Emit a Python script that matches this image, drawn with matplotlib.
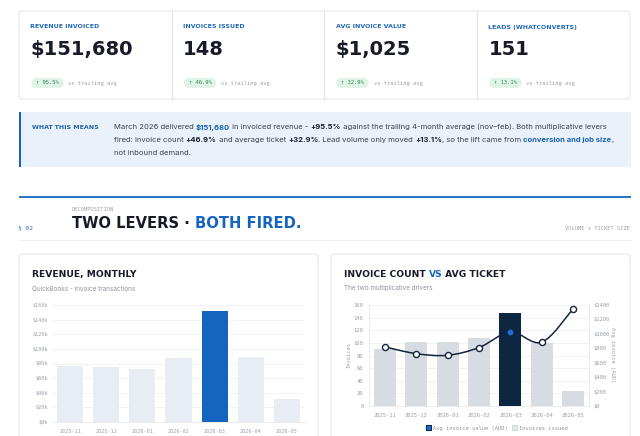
import matplotlib
matplotlib.use('Agg')
import matplotlib.pyplot as plt
import numpy as np
from matplotlib.patches import FancyBboxPatch, Rectangle, Patch, PathPatch
from matplotlib.path import Path

# ---------------- data ----------------
months = ['2025-11', '2025-12', '2026-01', '2026-02', '2026-03', '2026-04', '2026-05']
revenue = [75900, 75000, 72700, 87800, 151680, 88700, 31500]
invoices = [91, 102, 102, 107, 148, 100, 23]
avg_ticket = [820, 726, 703, 810, 1025, 885, 1350]
highlight_month = '2026-03'

kpi_labels = ['REVENUE INVOICED', 'INVOICES ISSUED', 'AVG INVOICE VALUE', 'LEADS (WHATCONVERTS)']
kpi_values = ['$151,680', '148', '$1,025', '151']
kpi_deltas = ['95.5%', '46.9%', '32.9%', '13.1%']

rev_ticks = [0, 20000, 40000, 60000, 80000, 100000, 120000, 140000, 160000]
inv_ticks = [0, 20, 40, 60, 80, 100, 120, 140, 160]
ticket_ticks = [0, 200, 400, 600, 800, 1000, 1200, 1400]

# ---------------- styling ----------------
W, H = 640, 436
BLUE = '#1565c0'
NAVY = '#0d2642'
INK = '#161b27'
GREY = '#8e949c'
TICK = '#9aa0a8'
BORDER = '#e3e6ea'
MONO = 'DejaVu Sans Mono'
SANS = 'DejaVu Sans'
BODY = ['Inter', 'DejaVu Sans']

fig = plt.figure(figsize=(6.4, 4.36), dpi=100)
fig.patch.set_facecolor('white')
bg = fig.add_axes([0, 0, 1, 1], zorder=0)
bg.set_xlim(0, W)
bg.set_ylim(H, 0)
bg.axis('off')
R = fig.canvas.get_renderer()


def text_w(s, **kw):
    t = bg.text(0, 0, '|' + s + '|', **kw)
    w1 = t.get_window_extent(R).width
    t.remove()
    t = bg.text(0, 0, '||', **kw)
    w2 = t.get_window_extent(R).width
    t.remove()
    return w1 - w2


def rich(x, y, runs, base):
    for s, kw in runs:
        p = dict(base)
        p.update(kw)
        bg.text(x, y, s, ha='left', va='center', **p)
        x += text_w(s, **p)


def rbox(x, y, w, h, r, fc, ec='none', lw=0.0, z=1):
    b = FancyBboxPatch((x, y), w, h, boxstyle=f'round,pad=0,rounding_size={r}',
                       fc=fc, ec=ec, lw=lw, zorder=z)
    bg.add_patch(b)
    return b


# ---------------- KPI strip ----------------
rbox(19, 11, 611, 88, 3, 'white', BORDER, 0.8)
col_x = [19, 171.5, 324, 477]
for xd in col_x[1:]:
    bg.plot([xd, xd], [11, 99], color=BORDER, lw=0.8, zorder=2)
for i in range(4):
    x0 = col_x[i] + 11.5
    bg.text(x0, 27, kpi_labels[i], fontsize=4.5, fontweight='bold', color='#1f68b8',
            family=SANS, ha='left', va='center', zorder=3)
    bg.text(x0, 49.5, kpi_values[i], fontsize=14, fontweight='bold', color=INK,
            family=SANS, ha='left', va='center', zorder=3)
    rbox(x0 + 1, 78, 32, 10, 5, '#dff3e7', z=2)
    bg.text(x0 + 17, 83, '\u2191 ' + kpi_deltas[i], fontsize=4.0, color='#2f8a57',
            family=MONO, ha='center', va='center', zorder=3)
    bg.text(x0 + 38, 83, 'vs trailing avg', fontsize=3.9, color=TICK,
            family=MONO, ha='left', va='center', zorder=3)

# ---------------- insight box ----------------
bg.add_patch(Rectangle((19, 112), 612, 55, fc='#e9f2fb', ec='none', zorder=1))
bg.add_patch(Rectangle((19, 112), 2, 55, fc=BLUE, ec='none', zorder=2))
bg.text(32, 127, 'WHAT THIS MEANS', fontsize=4.5, fontweight='bold', color='#1f5fa6',
        family=SANS, ha='left', va='center', zorder=3)
base = dict(fontsize=5.5, color='#3a414c', family=BODY, zorder=3)
B = dict(fontweight='bold', color='#1a1f2b')
L = dict(fontweight='bold', color='#1a62b3')
rich(114, 127, [('March 2026 delivered ', {}), ('$151,680', L), (' in invoiced revenue - ', {}),
                ('+95.5%', B), (' against the trailing 4-month average (nov\u2013feb). Both multiplicative levers', {})], base)
rich(114, 140, [('fired: invoice count ', {}), ('+46.9%', B), (' and average ticket ', {}), ('+32.9%', B),
                ('. Lead volume only moved ', {}), ('+13.1%', B), (', so the lift came from ', {}),
                ('conversion and job size', L), (',', {})], base)
rich(114, 153, [('not inbound demand.', {})], base)

# ---------------- section header ----------------
bg.plot([19, 631], [197, 197], color=BLUE, lw=1.3, zorder=2, solid_capstyle='butt')
bg.text(72, 209, 'DECOMPOSITION', fontsize=3.9, color=TICK, family=MONO,
        ha='left', va='center', zorder=3)
bg.text(18, 228, '\u00a7 02', fontsize=4.5, color='#2f6fb8', family=MONO,
        ha='left', va='center', zorder=3)
rich(72, 223.5, [('TWO LEVERS \u00b7 ', dict(color=INK)), ('BOTH FIRED.', dict(color=BLUE))],
     dict(fontsize=10.6, fontweight='bold', family=SANS, zorder=3))
bg.text(630, 228, 'VOLUME + TICKET SIZE', fontsize=3.9, color=TICK, family=MONO,
        ha='right', va='center', zorder=3)
bg.plot([19, 631], [239.5, 239.5], color='#eef0f2', lw=0.8, zorder=2)

# ---------------- chart cards ----------------
rbox(19, 254, 299, 200, 4, 'white', BORDER, 0.8)
rbox(331, 254, 299, 200, 4, 'white', BORDER, 0.8)

bg.text(32, 274, 'REVENUE, MONTHLY', fontsize=6.6, fontweight='bold', color=INK,
        family=SANS, ha='left', va='center', zorder=3)
bg.text(32, 288, 'QuickBooks - invoice transactions', fontsize=4.6, color=GREY,
        family=BODY, ha='left', va='center', zorder=3)
rich(344, 274, [('INVOICE COUNT ', dict(color=INK)), ('VS', dict(color=BLUE)),
                (' AVG TICKET', dict(color=INK))],
     dict(fontsize=6.6, fontweight='bold', family=SANS, zorder=3))
bg.text(344, 288, 'The two multiplicative drivers', fontsize=4.6, color=GREY,
        family=BODY, ha='left', va='center', zorder=3)

x = np.arange(len(months))
hi = months.index(highlight_month)

# ---- left: revenue ----
ax1 = fig.add_axes([52 / W, 1 - 422 / H, (305 - 52) / W, (422 - 305) / H], zorder=5)
ax1.patch.set_alpha(0)
cols1 = [BLUE if m == highlight_month else '#e8edf4' for m in months]
ax1.bar(x, revenue, width=0.72, color=cols1, zorder=3)
ax1.set_xlim(-0.5, len(months) - 0.5)
ax1.set_ylim(0, 160000)
ax1.set_yticks(rev_ticks)
ax1.set_yticklabels([f'${int(v/1000)}k' for v in rev_ticks])
ax1.set_xticks(x)
ax1.set_xticklabels(months)
ax1.grid(axis='y', color='#eef0f3', lw=0.6, zorder=0)
for s in ['top', 'right', 'left']:
    ax1.spines[s].set_visible(False)
ax1.spines['bottom'].set_color('#e6e9ed')
ax1.spines['bottom'].set_linewidth(0.6)
ax1.tick_params(axis='y', length=0, pad=3, labelsize=3.7, labelcolor=TICK)
ax1.tick_params(axis='x', length=0, pad=5, labelsize=3.7, labelcolor=TICK)
for lab in ax1.get_xticklabels() + ax1.get_yticklabels():
    lab.set_family(MONO)

# ---- right: invoices vs avg ticket ----
ax2 = fig.add_axes([369 / W, 1 - 406 / H, (589 - 369) / W, (406 - 305) / H], zorder=5)
ax2.patch.set_alpha(0)
cols2 = [NAVY if m == highlight_month else '#d7dce3' for m in months]
ax2.bar(x, invoices, width=0.7, color=cols2, zorder=3)
ax2.set_xlim(-0.5, len(months) - 0.5)
ax2.set_ylim(0, 160)
ax2.set_yticks(inv_ticks)
ax2.set_xticks(x)
ax2.set_xticklabels(months)
ax2.grid(axis='y', color='#eef0f3', lw=0.6, zorder=0)
ax2.spines['top'].set_visible(False)
for s in ['left', 'right', 'bottom']:
    ax2.spines[s].set_color('#e6e9ed')
    ax2.spines[s].set_linewidth(0.6)
ax2.tick_params(axis='y', length=0, pad=4, labelsize=4.0, labelcolor=TICK)
ax2.tick_params(axis='x', length=0, pad=5, labelsize=4.0, labelcolor=TICK)
for lab in ax2.get_xticklabels() + ax2.get_yticklabels():
    lab.set_family(MONO)

ax3 = ax2.twinx()
ax3.set_zorder(6)
ax3.patch.set_alpha(0)
ax3.set_ylim(0, 1400)
ax3.set_yticks(ticket_ticks)
ax3.set_yticklabels([f'${v}' for v in ticket_ticks])
for s in ['top', 'left', 'bottom']:
    ax3.spines[s].set_visible(False)
ax3.spines['right'].set_color('#e6e9ed')
ax3.spines['right'].set_linewidth(0.6)
ax3.tick_params(axis='y', length=0, pad=3, labelsize=4.0, labelcolor=TICK)
for lab in ax3.get_yticklabels():
    lab.set_family(MONO)

# smooth curve through the points (Catmull-Rom as cubic Bezier)
P = np.column_stack([x, avg_ticket]).astype(float)
verts = [P[0]]
codes = [Path.MOVETO]
n = len(P)
for i in range(n - 1):
    p0 = P[i - 1] if i > 0 else P[i]
    p1, p2 = P[i], P[i + 1]
    p3 = P[i + 2] if i + 2 < n else P[i + 1]
    verts += [p1 + (p2 - p0) / 6, p2 - (p3 - p1) / 6, p2]
    codes += [Path.CURVE4] * 3
ax3.add_patch(PathPatch(Path(verts, codes), fc='none', ec='#13243c', lw=1.1, zorder=4))
for i in range(n):
    if i == hi:
        ax3.plot(x[i], avg_ticket[i], 'o', ms=4.2, mfc='#1a6fd0', mec='#1a6fd0', mew=0, zorder=5)
    else:
        ax3.plot(x[i], avg_ticket[i], 'o', ms=4.4, mfc='white', mec='#13243c', mew=1.0, zorder=5)

bg.text(349, 355, 'Invoices', rotation=90, fontsize=3.9, color=TICK, family=MONO,
        ha='center', va='center', zorder=3)
bg.text(613, 355, 'Avg invoice (AUD)', rotation=270, fontsize=3.9, color=TICK, family=MONO,
        ha='center', va='center', zorder=3)

handles = [Patch(fc='#1a6fd0', ec=NAVY, lw=0.8), Patch(fc='#e3e7ec', ec='#c9ced6', lw=0.5)]
leg = fig.legend(handles, ['Avg invoice value (AUD)', 'Invoices issued'], loc='center',
                 bbox_to_anchor=(497 / W, 1 - 428 / H), ncol=2, frameon=False,
                 prop=dict(family=MONO, size=3.9), handlelength=0.9, handleheight=0.9,
                 handletextpad=0.4, columnspacing=0.9, labelcolor=GREY)

fig.savefig('out.png', dpi=100, facecolor='white')
